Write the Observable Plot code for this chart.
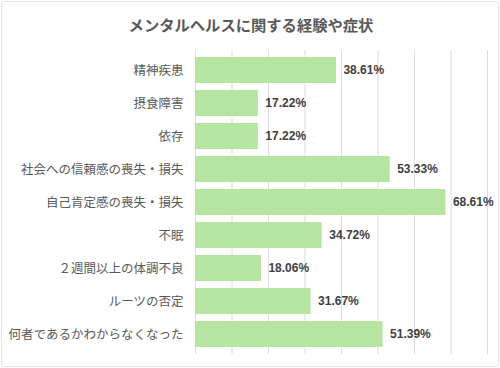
<!DOCTYPE html>
<html>
<head>
<meta charset="utf-8">
<script src="https://cdn.jsdelivr.net/npm/d3@7"></script>
<script src="https://cdn.jsdelivr.net/npm/@observablehq/plot@0.6"></script>
<style>
  html, body { margin: 0; padding: 0; background: #fff; }
  #wrap { position: relative; width: 500px; height: 368px; overflow: hidden; }
  #frame { position: absolute; left: 1px; top: 1px; border: 1px solid #e2e2e2; border-radius: 3px; box-sizing: border-box; width: 498px; height: 366px; pointer-events: none; }
  #title { position: absolute; left: 0; top: 13px; width: 502px; text-align: center; font-family: "Noto Sans CJK JP", sans-serif; font-weight: bold; font-size: 15.3px; line-height: 22px; color: #595959; }
  #chart { position: absolute; left: 0; top: 0; }
</style>
</head>
<body>
<div id="wrap">
  <div id="chart"></div>
  <div id="frame"></div>
  <div id="title">メンタルヘルスに関する経験や症状</div>
</div>
<script>
const categories = [
  "精神疾患",
  "摂食障害",
  "依存",
  "社会への信頼感の喪失・損失",
  "自己肯定感の喪失・損失",
  "不眠",
  "２週間以上の体調不良",
  "ルーツの否定",
  "何者であるかわからなくなった"
];
const values = [38.61, 17.22, 17.22, 53.33, 68.61, 34.72, 18.06, 31.67, 51.39];
const gridTicks = [0, 10, 20, 30, 40, 50, 60, 70, 80];

const data = categories.map((c, i) => ({label: c, value: values[i]}));

const chart = Plot.plot({
  width: 500,
  height: 368,
  marginTop: 50,
  marginBottom: 14,
  marginLeft: 195,
  marginRight: 13,
  style: {fontFamily: "'Noto Sans CJK JP', sans-serif", background: "transparent"},
  x: {domain: [0, 80], axis: null},
  y: {domain: categories, padding: 0.21, label: null, tickSize: 0, tickPadding: 12},
  marks: [
    Plot.ruleX(gridTicks, {x: d => d, stroke: "#dcdcdc", strokeWidth: 1}),
    Plot.barX(data, {x: "value", y: "label", fill: "#b5e5a1"}),
    Plot.axisY({tickSize: 0, tickPadding: 12, fontSize: 12.5, color: "#595959", label: null}),
    Plot.text(data, {
      x: "value", y: "label",
      text: d => d.value.toFixed(2) + "%",
      dx: 7, textAnchor: "start",
      fontWeight: "bold", fontSize: 12, fill: "#404040",
      fontFamily: "'Liberation Sans', Arial, sans-serif"
    })
  ]
});
document.getElementById("chart").appendChild(chart);
</script>
</body>
</html>
